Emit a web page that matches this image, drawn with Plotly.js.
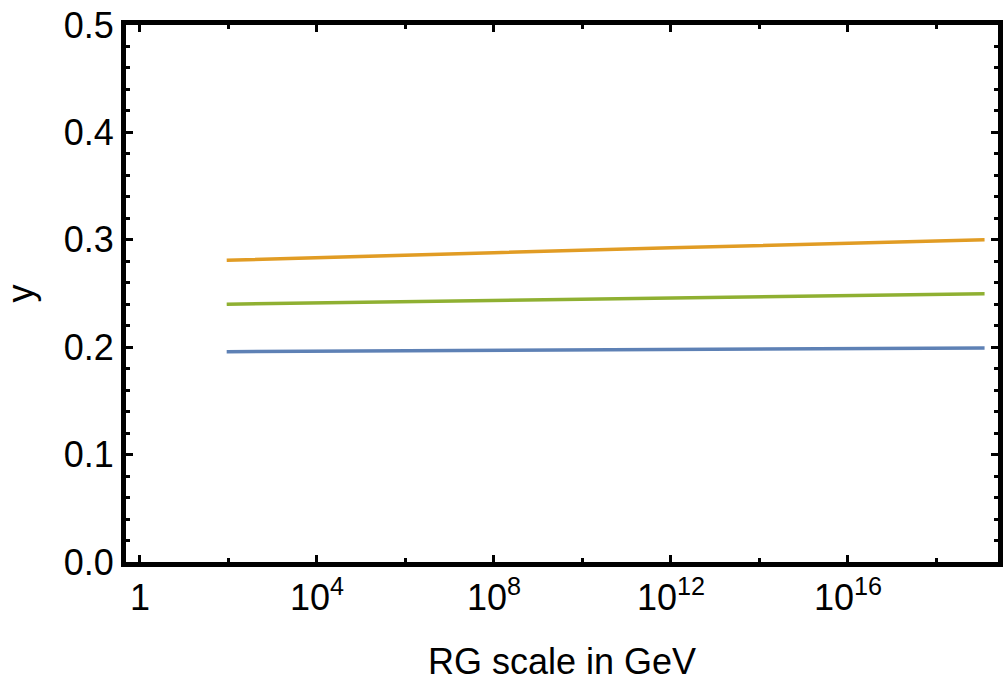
<!DOCTYPE html>
<html>
<head>
<meta charset="utf-8">
<script src="https://cdn.plot.ly/plotly-3.0.1.min.js"></script>
<style>html,body{margin:0;padding:0;background:#fff;}#chart{width:1006px;height:682px;}</style>
</head>
<body>
<div id="chart"></div>
<script>
// RG scale (GeV) sample points
var scaleGeV = [91.19, 1e4, 1e8, 1e12, 1e16, 1.22e19];
// series values
var seriesOrange = [0.281, 0.2835, 0.288, 0.2925, 0.2965, 0.300];
var seriesGreen  = [0.240, 0.2412, 0.243, 0.2455, 0.2478, 0.2498];
var seriesBlue   = [0.1958, 0.1963, 0.1972, 0.1980, 0.1987, 0.1993];
// tick labels
var xTickVals = [1, 1e4, 1e8, 1e12, 1e16];
var xTickText = ['1', '10<sup>4</sup>', '10<sup>8</sup>', '10<sup>12</sup>', '10<sup>16</sup>'];
var xMinorVals = [1e2, 1e6, 1e10, 1e14, 1e18];
var yTickVals = [0, 0.1, 0.2, 0.3, 0.4, 0.5];
var yTickText = ['0.0', '0.1', '0.2', '0.3', '0.4', '0.5'];

var font = {family: 'Liberation Sans, Arial, sans-serif', size: 36, color: '#000'};

var traces = [
  {x: scaleGeV, y: seriesBlue, mode: 'lines', line: {color: '#5E81B5', width: 3.5}, hoverinfo: 'skip'},
  {x: scaleGeV, y: seriesOrange, mode: 'lines', line: {color: '#E19C24', width: 3.5}, hoverinfo: 'skip'},
  {x: scaleGeV, y: seriesGreen, mode: 'lines', line: {color: '#8FB032', width: 3.5}, hoverinfo: 'skip'}
];

var layout = {
  width: 1006, height: 682,
  margin: {l: 126, r: 8, t: 25, b: 120},
  paper_bgcolor: '#fff', plot_bgcolor: '#fff',
  showlegend: false,
  font: font,
  xaxis: {
    type: 'log', range: [-0.316, 19.39],
    showline: true, linecolor: '#000', linewidth: 5, mirror: 'allticks',
    ticks: 'inside', ticklen: 7, tickwidth: 3, tickcolor: '#000',
    tickmode: 'array', tickvals: xTickVals, ticktext: xTickText,
    minor: {tickmode: 'array', tickvals: xMinorVals, ticks: 'inside', ticklen: 4, tickwidth: 3, tickcolor: '#000', showgrid: false},
    showgrid: false, zeroline: false,
    tickfont: font,
    title: {text: 'RG scale in GeV', font: font, standoff: 34},
    automargin: false, fixedrange: true
  },
  yaxis: {
    range: [0, 0.5],
    showline: true, linecolor: '#000', linewidth: 5, mirror: 'allticks',
    ticks: 'inside', ticklen: 7, tickwidth: 3, tickcolor: '#000',
    tickmode: 'array', tickvals: yTickVals, ticktext: yTickText,
    minor: {dtick: 0.02, ticks: 'inside', ticklen: 4, tickwidth: 3, tickcolor: '#000', showgrid: false},
    showgrid: false, zeroline: false,
    tickfont: font,
    title: {text: 'y', font: font, standoff: 22},
    automargin: false, fixedrange: true
  }
};

Plotly.newPlot('chart', traces, layout, {displayModeBar: false, staticPlot: true});
</script>
</body>
</html>
